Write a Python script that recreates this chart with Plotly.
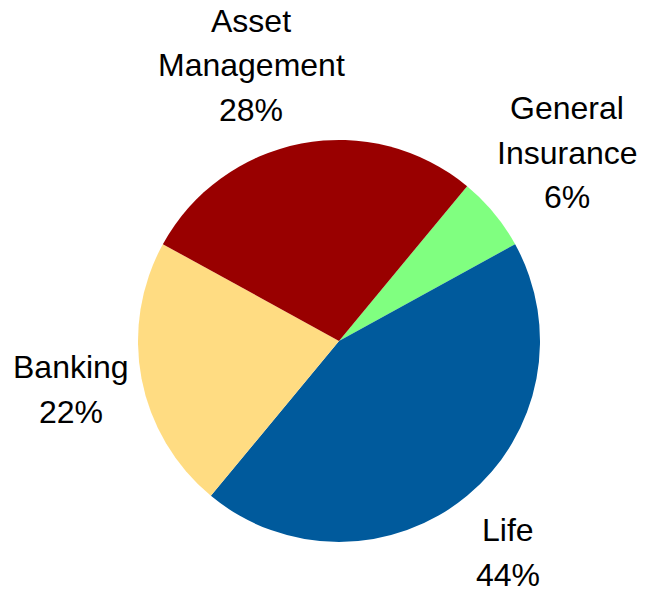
import plotly.graph_objects as go

labels = ["General Insurance", "Life", "Banking", "Asset Management"]
label_lines = [["General", "Insurance"], ["Life"], ["Banking"], ["Asset", "Management"]]
values = [6, 44, 22, 28]
colors = ["#80FF80", "#005A9C", "#FFDC82", "#990000"]

# label anchor: (center x, baseline of first line), px from top-left
label_pos = [(567, 119), (508, 541), (71, 378), (251, 32)]
LINE_GAP = 44.5
BASE_TO_MID = 11

W, H = 645, 590
cx, cy, r = 339, 341, 201

fig = go.Figure(go.Pie(
    labels=labels,
    values=values,
    marker=dict(colors=colors, line=dict(width=0)),
    sort=False,
    direction="clockwise",
    rotation=39.6,
    textinfo="none",
    hoverinfo="label+percent",
    showlegend=False,
    domain=dict(x=[(cx - r) / W, (cx + r) / W], y=[1 - (cy + r) / H, 1 - (cy - r) / H]),
))

total = sum(values)
for lines, v, (px, py) in zip(label_lines, values, label_pos):
    all_lines = lines + [f"{round(100 * v / total)}%"]
    for i, line in enumerate(all_lines):
        ymid = py + i * LINE_GAP - BASE_TO_MID
        fig.add_annotation(
            x=px / W, y=1 - ymid / H, xref="paper", yref="paper",
            text=line,
            showarrow=False, xanchor="center", yanchor="middle",
            font=dict(family="Liberation Sans, Arial, sans-serif", size=32, color="#000000"),
        )

fig.update_layout(
    width=W, height=H,
    margin=dict(l=0, r=0, t=0, b=0),
    paper_bgcolor="white",
    plot_bgcolor="white",
)

fig.write_html("out.html", config={"displayModeBar": False},
               post_script="document.body.style.margin='0';")
